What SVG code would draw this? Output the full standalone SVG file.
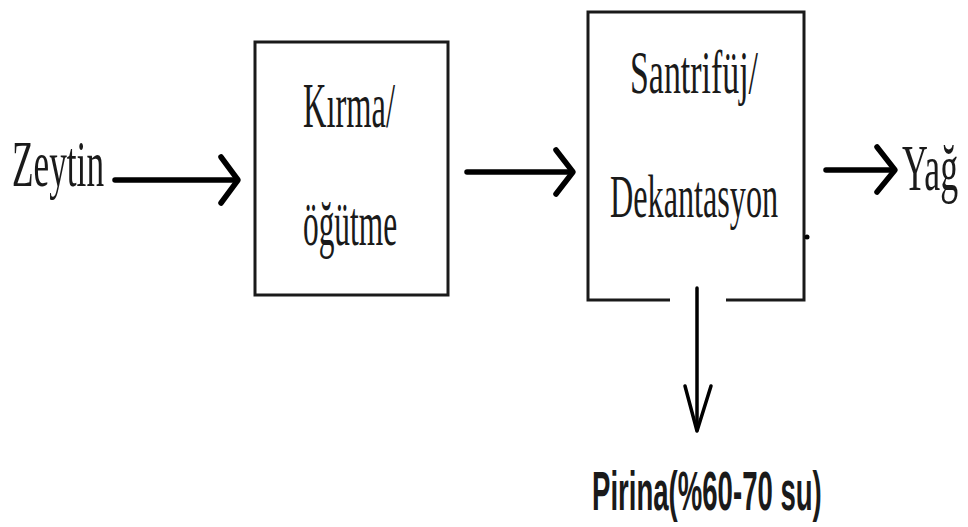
<svg xmlns="http://www.w3.org/2000/svg" width="968" height="527" viewBox="0 0 968 527">
  <style>
    .box { fill: #ffffff; stroke: #1a1a1a; stroke-width: 3; }
    .edge { fill: none; stroke: #000000; stroke-linecap: round; stroke-linejoin: round; }
    .thick { stroke-width: 5.5; }
    .thin { stroke-width: 3.5; }
    .serif { font-family: "Liberation Serif", "Times New Roman", serif; fill: #1a1a1a; }
    .sans { font-family: "Liberation Sans", Arial, sans-serif; font-weight: bold; fill: #1a1a1a; }
  </style>
  <rect width="968" height="527" fill="#ffffff"/>

  <!-- Input label (condensed horizontally) -->
  <g id="zeytin">
    <text class="serif" transform="translate(12,186) scale(0.535,1)" font-size="66" textLength="172" lengthAdjust="spacingAndGlyphs">Zeytin</text>
  </g>

  <!-- Crushing / grinding -->
  <g id="kirma">
    <rect class="box" x="255" y="42" width="193" height="253"/>
    <text class="serif" transform="translate(303,127) scale(0.508,1)" font-size="64" textLength="181" lengthAdjust="spacingAndGlyphs">Kırma/</text>
    <text class="serif" transform="translate(303,245) scale(0.49,1)" font-size="64" textLength="192" lengthAdjust="spacingAndGlyphs">öğütme</text>
  </g>

  <!-- Centrifuge / decanter, open at the bottom for the pomace outlet -->
  <g id="santrifuj">
    <path class="box" d="M670,300 H588 V12 H804 V300 H726"/>
    <text class="serif" transform="translate(630,93) scale(0.547,1)" font-size="62" textLength="234" lengthAdjust="spacingAndGlyphs">Santrifüj/</text>
    <text class="serif" transform="translate(610,217) scale(0.519,1)" font-size="62" textLength="324" lengthAdjust="spacingAndGlyphs">Dekantasyon</text>
    <circle cx="807" cy="237" r="2.5" fill="#000000"/>
  </g>

  <!-- Oil output -->
  <g id="yag">
    <text class="serif" transform="translate(902,190) scale(0.51,1)" font-size="66" textLength="110" lengthAdjust="spacingAndGlyphs">Yağ</text>
  </g>

  <!-- Pomace output -->
  <g id="pirina">
    <text class="sans" transform="translate(592,510) scale(0.49,1)" font-size="56" textLength="469" lengthAdjust="spacingAndGlyphs">Pirina(%60-70 su)</text>
  </g>

  <!-- Connectors -->
  <g id="connectors">
    <path class="edge thick" d="M115,180 H236"/>
    <path class="edge thick" d="M221,157 L238,180 L221,203"/>

    <path class="edge thick" d="M467,172 H572"/>
    <path class="edge thick" d="M556,150 L573,172 L556,194"/>

    <path class="edge thick" d="M826,170 H893"/>
    <path class="edge thick" d="M877,147 L895,170 L877,192"/>

    <path class="edge thin" d="M697,288 V430"/>
    <path class="edge thin" d="M685,386 L697,431 L711,386"/>
  </g>
</svg>
